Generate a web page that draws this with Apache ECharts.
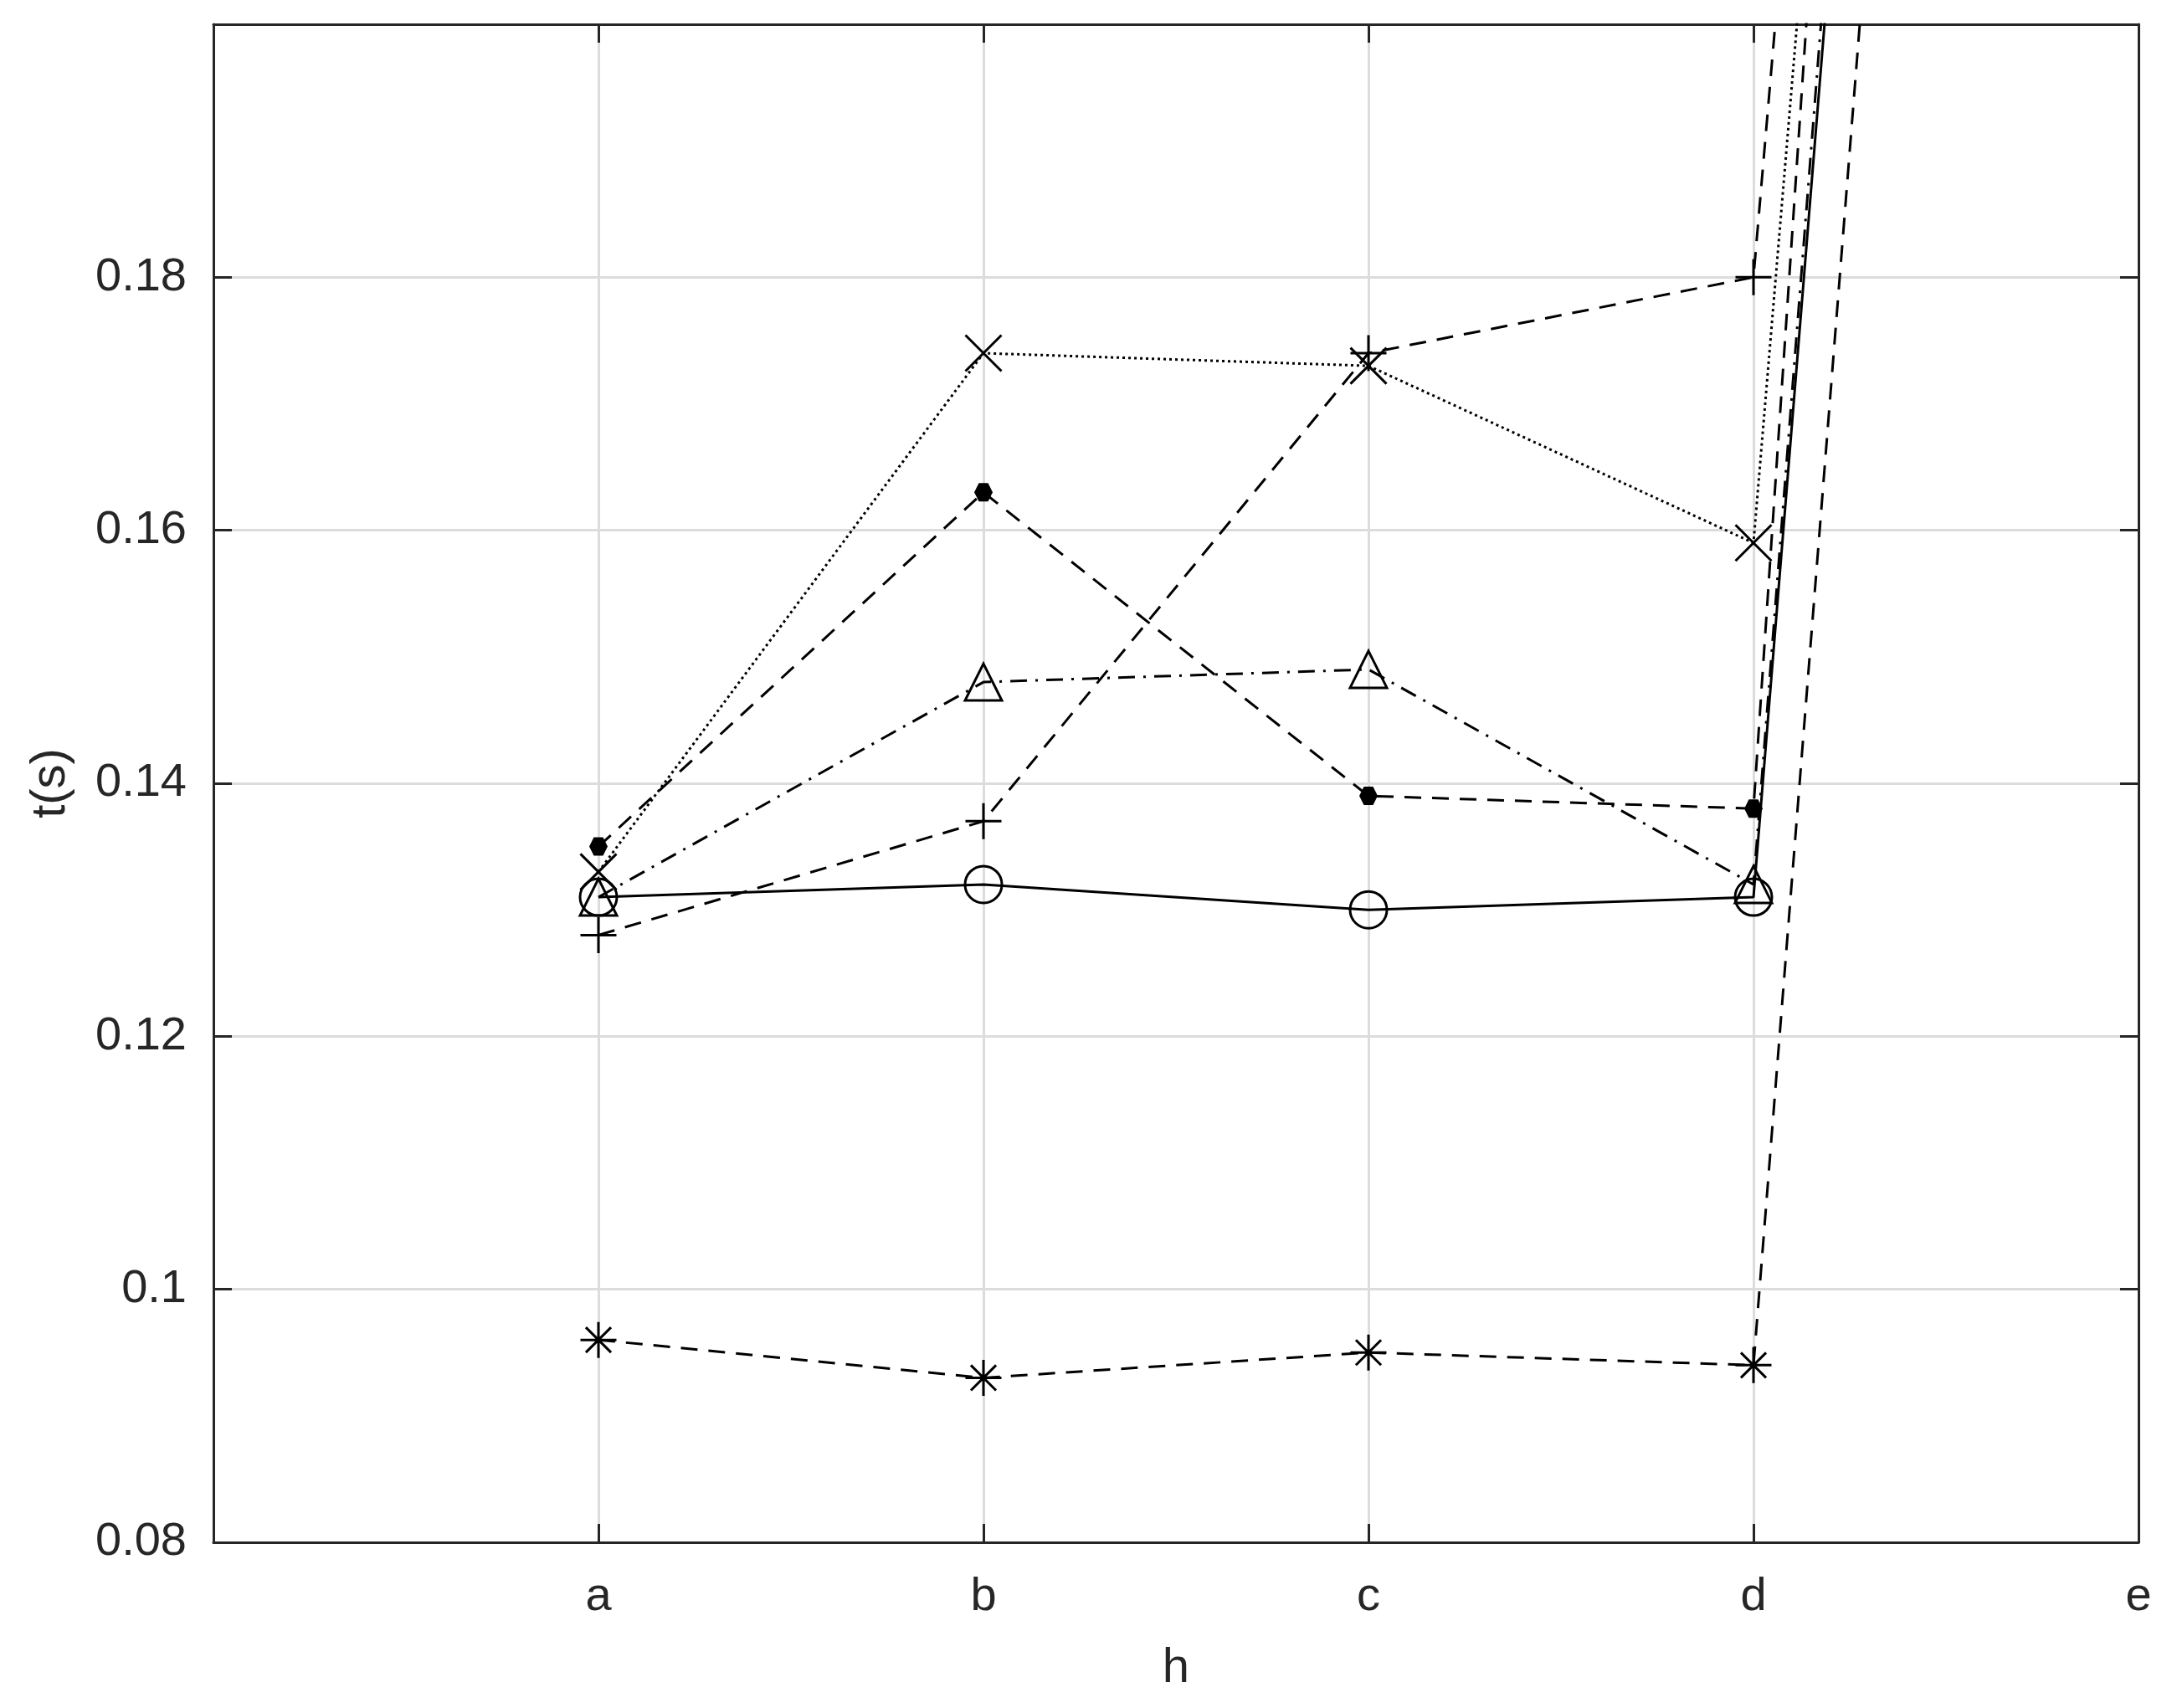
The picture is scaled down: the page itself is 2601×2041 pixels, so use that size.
<!DOCTYPE html>
<html>
<head>
<meta charset="utf-8">
<script src="https://cdn.jsdelivr.net/npm/echarts@6/dist/echarts.min.js"></script>
<style>
  html, body { margin: 0; padding: 0; background: #fff; }
  #main { width: 2601px; height: 2041px; }
</style>
</head>
<body>
<div id="main"></div>
<script>
// x positions 1..5 -> a..e, 0 is the empty left margin
var categories = ['a', 'b', 'c', 'd', 'e'];
var yTicks = [0.08, 0.1, 0.12, 0.14, 0.16, 0.18];

var circleVals   = [0.131, 0.132, 0.130, 0.131, 0.505];
var triangleVals = [0.131, 0.148, 0.149, 0.132, 0.520];
var crossVals    = [0.133, 0.174, 0.173, 0.159, 0.522];
var dotVals      = [0.135, 0.163, 0.139, 0.138, 0.590];
var plusVals     = [0.128, 0.137, 0.174, 0.180, 0.534];
var starVals     = [0.096, 0.093, 0.095, 0.094, 0.478];

var ink = '#262626';
var tickLen = 22;
var symX = 'path://M0,0L100,100M100,0L0,100';
var symPlus = 'path://M0,50L100,50M50,0L50,100';
var symStar = 'path://M0,50L100,50M50,0L50,100M15,15L85,85M85,15L15,85';
var symHex = 'path://M25,0L75,0L100,50L75,100L25,100L0,50Z';

function pairs(vals) {
  return vals.map(function (v, i) { return [i + 1, v]; });
}

function line(name, vals, symbol, size, dash, filled) {
  return {
    name: name,
    type: 'line',
    data: pairs(vals),
    symbol: symbol,
    symbolSize: size,
    clip: true,
    lineStyle: { color: '#000', width: 3, type: dash },
    itemStyle: {
      color: filled ? '#000' : 'rgba(0,0,0,0)',
      borderColor: '#000',
      borderWidth: filled ? 0 : 3
    },
    emphasis: { disabled: true }
  };
}

var xRange = { min: 0, max: 5, interval: 1 };
var yRange = { min: 0.08, max: 0.2, interval: 0.02 };

// boxed axes, ticks pointing in
function axis(pos, range) {
  return Object.assign({
    type: 'value',
    position: pos,
    axisLine: { show: true, onZero: false, lineStyle: { color: ink, width: 3 } },
    axisTick: { show: true, inside: true, length: tickLen, lineStyle: { color: ink, width: 3 } },
    axisLabel: { show: false },
    splitLine: { show: false }
  }, range);
}

var myChart = echarts.init(document.getElementById('main'));

var xMain = axis('bottom', xRange);
xMain.name = 'h';
xMain.nameLocation = 'middle';
xMain.nameGap = 122;
xMain.nameTextStyle = { fontFamily: 'Liberation Sans', fontSize: 58, color: ink };
xMain.axisLabel = {
  margin: 38,
  fontFamily: 'Liberation Sans', fontSize: 56, color: ink,
  formatter: function (v) { return v >= 1 ? categories[v - 1] : ''; }
};
xMain.splitLine = { show: true, lineStyle: { color: '#dcdcdc', width: 3 } };

var yMain = axis('left', yRange);
yMain.name = 't(s)';
yMain.nameLocation = 'middle';
yMain.nameGap = 165;
yMain.nameTextStyle = { fontFamily: 'Liberation Sans', fontSize: 58, color: ink };
yMain.axisLabel = {
  margin: 32,
  fontFamily: 'Liberation Sans', fontSize: 56, color: ink,
  formatter: function (v) {
    var r = Math.round(v * 100) / 100;
    return yTicks.indexOf(r) >= 0 ? String(r) : '';
  }
};
yMain.splitLine = { show: true, lineStyle: { color: '#dcdcdc', width: 3 } };

myChart.setOption({
  animation: false,
  backgroundColor: '#fff',
  grid: { left: 255, top: 29, right: 46, bottom: 198, containLabel: false },
  xAxis: [xMain, axis('top', xRange)],
  yAxis: [yMain, axis('right', yRange)],
  series: [
    line('circle', circleVals, 'circle', 44, 'solid', false),
    line('triangle', triangleVals, 'triangle', 44, [20, 10, 3, 10], false),
    line('cross', crossVals, symX, 43, [3, 4], false),
    line('dot', dotVals, symHex, 22, [20, 13], true),
    line('plus', plusVals, symPlus, 43, [20, 13], false),
    line('star', starVals, symStar, 43, [20, 13], false)
  ]
});
</script>
</body>
</html>
